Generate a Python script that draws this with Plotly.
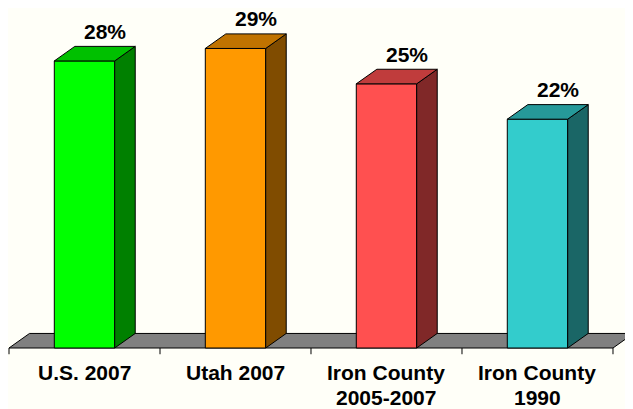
import plotly.graph_objs as go

# ── Data ───────────────────────────────────────────────────────────────────────
categories = ["U.S. 2007", "Utah 2007", "Iron County<br>2005-2007", "Iron County<br>1990"]
values = [27.6, 28.8, 25.4, 22.0]
value_labels = ["28%", "29%", "25%", "22%"]
front_colors = ["#00ff00", "#ff9900", "#ff5050", "#33cccc"]
side_colors = ["#008000", "#804c00", "#802828", "#1a6666"]
top_colors = ["#00c000", "#c07300", "#c03c3c", "#269999"]

# ── 3D look (in axis units) ────────────────────────────────────────────────────
HALF_W = 0.2      # half width of bar front face
DX = 0.136        # depth offset, x
DY = 1.40         # depth offset, y (percent units)
BG = "#fffff8"
FONT = "Arial, Liberation Sans, sans-serif"

fig = go.Figure()


def face(xs, ys, color):
    fig.add_trace(go.Scatter(
        x=xs + [xs[0]], y=ys + [ys[0]], mode="lines", fill="toself",
        fillcolor=color, line=dict(color="black", width=1),
        hoverinfo="skip", showlegend=False,
    ))


# floor
n = len(categories)
face([-0.5, n - 0.5, n - 0.5 + DX, -0.5 + DX], [0, 0, DY, DY], "#808080")

# tick marks under the floor edge
tx, ty = [], []
for b in range(n + 1):
    tx += [b - 0.5, b - 0.5, None]
    ty += [0, -0.6, None]
fig.add_trace(go.Scatter(x=tx, y=ty, mode="lines", line=dict(color="black", width=1),
                         hoverinfo="skip", showlegend=False))

# bars
for i, v in enumerate(values):
    l, r = i - HALF_W, i + HALF_W
    face([l, r, r, l], [0, 0, v, v], front_colors[i])
    face([r, r + DX, r + DX, r], [0, DY, v + DY, v], side_colors[i])
    face([l, r, r + DX, l + DX], [v, v, v + DY, v + DY], top_colors[i])
    fig.add_annotation(x=i + DX, y=v + DY, text=value_labels[i], showarrow=False,
                       yshift=15, font=dict(family=FONT, size=21, color="black", weight="bold"))

# category labels
for i, cat in enumerate(categories):
    for j, line in enumerate(cat.split("<br>")):
        fig.add_annotation(x=i, y=-2.4 - j * 2.4, text=line, showarrow=False,
                           font=dict(family=FONT, size=21, color="black", weight="bold"))

# page body keeps an 8px margin, so the figure is 8px smaller and the ranges shifted
fig.update_layout(
    width=625, height=401,
    margin=dict(l=0, r=0, t=0, b=0),
    paper_bgcolor=BG, plot_bgcolor=BG,
    showlegend=False,
    xaxis=dict(range=[-0.5066, 3.6325], visible=False, fixedrange=True),
    yaxis=dict(range=[-5.865, 32.69], visible=False, fixedrange=True),
)

fig.write_html("out.html")
